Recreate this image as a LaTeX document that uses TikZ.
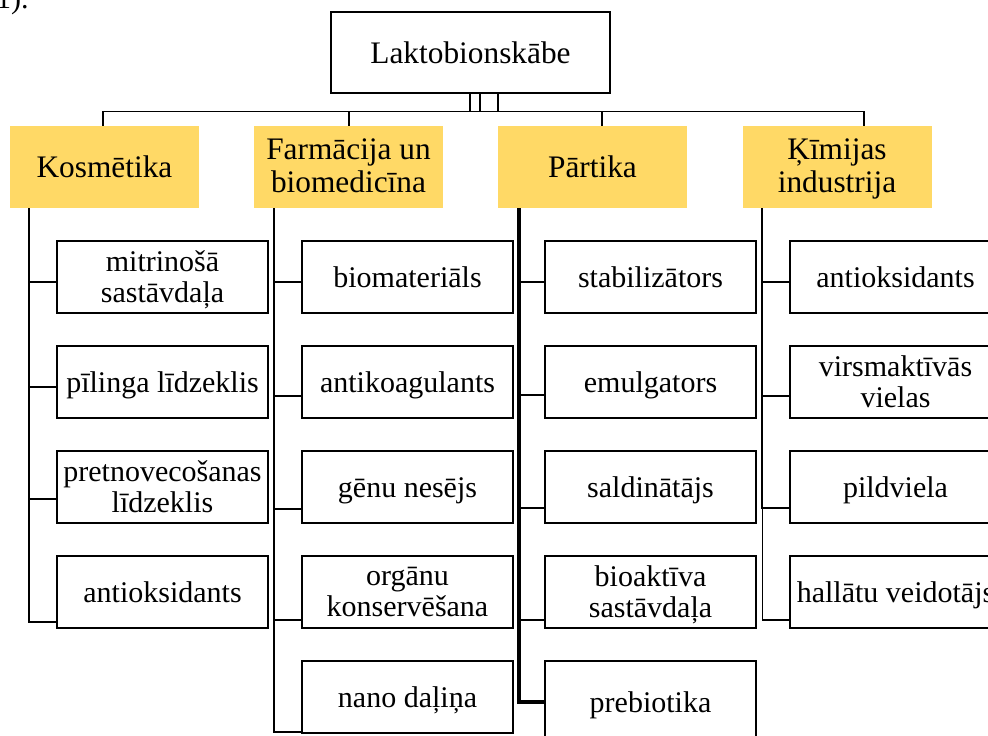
\documentclass[tikz,border=0pt]{standalone}
\usepackage{fontspec}
\setmainfont{Liberation Serif}
\definecolor{catyellow}{HTML}{FFD966}
\newlength\pxu
\setlength{\pxu}{0.75pt}
\tikzset{
  rootbox/.style={draw=black, line width=1.9pt, fill=white, inner sep=0pt,
    minimum width=279\pxu, minimum height=81\pxu, align=center,
    text height=21pt, text depth=5.2pt,
    font=\fontsize{23.5}{24.5}\selectfont},
  catbox/.style={fill=catyellow, draw=none, inner sep=0pt,
    minimum width=189\pxu, minimum height=82\pxu, align=center,
    font=\fontsize{23.5}{24.5}\selectfont},
  catone/.style={catbox, text height=21pt, text depth=5.2pt},
  cattwo/.style={catbox, text depth=2.5pt},
  subbox/.style={draw=black, line width=1.5pt, fill=white, inner sep=0pt,
    minimum width=211\pxu, minimum height=72\pxu, align=center,
    font=\fontsize{22.5}{23.5}\selectfont},
  subone/.style={subbox, text height=20pt, text depth=5pt},
  subtwo/.style={subbox, text depth=0.5pt},
  rootconn/.style={draw=black, line width=1pt},
  conn/.style={draw=black, line width=1.8pt},
  thinconn/.style={draw=black, line width=1.1pt},
  thickconn/.style={draw=black, line width=3pt},
}
\begin{document}
\begin{tikzpicture}[x=0.75pt,y=-0.75pt]
\useasboundingbox (0,0) rectangle (988,735);
\clip (0,0) rectangle (988,735);

\node[anchor=base east, font=\fontsize{22.5}{24.5}\selectfont, inner sep=0pt] (frag) at (29,9) {1).};

% root
\node[rootbox] (root) at (470.5,52.5) {Laktobionskābe};

% categories
\node[catone] (kos) at (104.5,167) {Kosmētika};
\node[cattwo] (far) at (348.5,167) {Farmācija un\\biomedicīna};
\node[catone] (par) at (592.5,167) {Pārtika};
\node[cattwo] (kim) at (837,167) {Ķīmijas\\industrija};

% root connectors
\draw[rootconn] ([xshift=-0.5\pxu]root.south) -- ++(0,17) -| ([xshift=-1.5\pxu]kos.north);
\draw[rootconn] ([xshift=9.5\pxu]root.south) -- ++(0,17) -| ([xshift=0.5\pxu]far.north);
\draw[rootconn] ([xshift=9.5\pxu]root.south) -- ++(0,17) -| ([xshift=9.5\pxu]par.north);
\draw[rootconn] ([xshift=27.5\pxu]root.south) -- ++(0,17) -| ([xshift=27\pxu]kim.north);

% Kosmētika column
\node[subtwo] (k1) at (162.5,277) {mitrinošā\\sastāvdaļa};
\node[subone] (k2) at (162.5,382) {pīlinga līdzeklis};
\node[subtwo] (k3) at (162.5,487) {pretnovecošanas\\līdzeklis};
\node[subone] (k4) at (162.5,592) {antioksidants};
\draw[conn] ([xshift=19\pxu]kos.south west) |- ([yshift=-5\pxu]k1.west);
\draw[conn] ([xshift=19\pxu]kos.south west) |- ([yshift=-5\pxu]k2.west);
\draw[conn] ([xshift=19\pxu]kos.south west) |- ([yshift=-12\pxu]k3.west);
\draw[conn] ([xshift=19\pxu]kos.south west) |- ([yshift=-30\pxu]k4.west);

% Farmācija column
\node[subone] (f1) at (407.5,277) {biomateriāls};
\node[subone] (f2) at (407.5,382) {antikoagulants};
\node[subone] (f3) at (407.5,487) {gēnu nesējs};
\node[subtwo] (f4) at (407.5,592) {orgānu\\konservēšana};
\node[subone] (f5) at (407.5,697) {nano daļiņa};
\draw[conn] ([xshift=20\pxu]far.south west) |- ([yshift=-5\pxu]f1.west);
\draw[conn] ([xshift=20\pxu]far.south west) |- ([yshift=-14\pxu]f2.west);
\draw[conn] ([xshift=20\pxu]far.south west) |- ([yshift=-22\pxu]f3.west);
\draw[conn] ([xshift=20\pxu]far.south west) |- ([yshift=-28\pxu]f4.west);
\draw[conn] ([xshift=20\pxu]far.south west) |- ([yshift=-35\pxu]f5.west);

% Pārtika column
\node[subone] (p1) at (650.5,277) {stabilizātors};
\node[subone] (p2) at (650.5,382) {emulgators};
\node[subone] (p3) at (650.5,487) {saldinātājs};
\node[subtwo] (p4) at (650.5,592) {bioaktīva\\sastāvdaļa};
\node[subone, minimum height=82\pxu] (p5) at (650.5,702) {prebiotika};
\draw[thickconn] ([xshift=21\pxu]par.south west) |- (p5.west);
\draw[conn] ([xshift=21\pxu]par.south west) |- ([yshift=-5\pxu]p1.west);
\draw[conn] ([xshift=21\pxu]par.south west) |- ([yshift=-13\pxu]p2.west);
\draw[conn] ([xshift=21\pxu]par.south west) |- ([yshift=-21\pxu]p3.west);
\draw[conn] ([xshift=21\pxu]par.south west) |- ([yshift=-28\pxu]p4.west);

% Ķīmijas column
\node[subone] (c1) at (895.5,277) {antioksidants};
\node[subtwo] (c2) at (895.5,382) {virsmaktīvās\\vielas};
\node[subone] (c3) at (895.5,487) {pildviela};
\node[subone] (c4) at (895.5,592) {hallātu veidotājs};
\draw[conn] ([xshift=20\pxu]kim.south west) |- ([yshift=-5\pxu]c1.west);
\draw[conn] ([xshift=20\pxu]kim.south west) |- ([yshift=-14\pxu]c2.west);
\draw[conn] ([xshift=20\pxu]kim.south west) |- ([yshift=-21\pxu]c3.west);
\draw[thinconn] ([xshift=20\pxu]kim.south west) |- ([yshift=-28\pxu]c4.west);
\end{tikzpicture}
\end{document}
